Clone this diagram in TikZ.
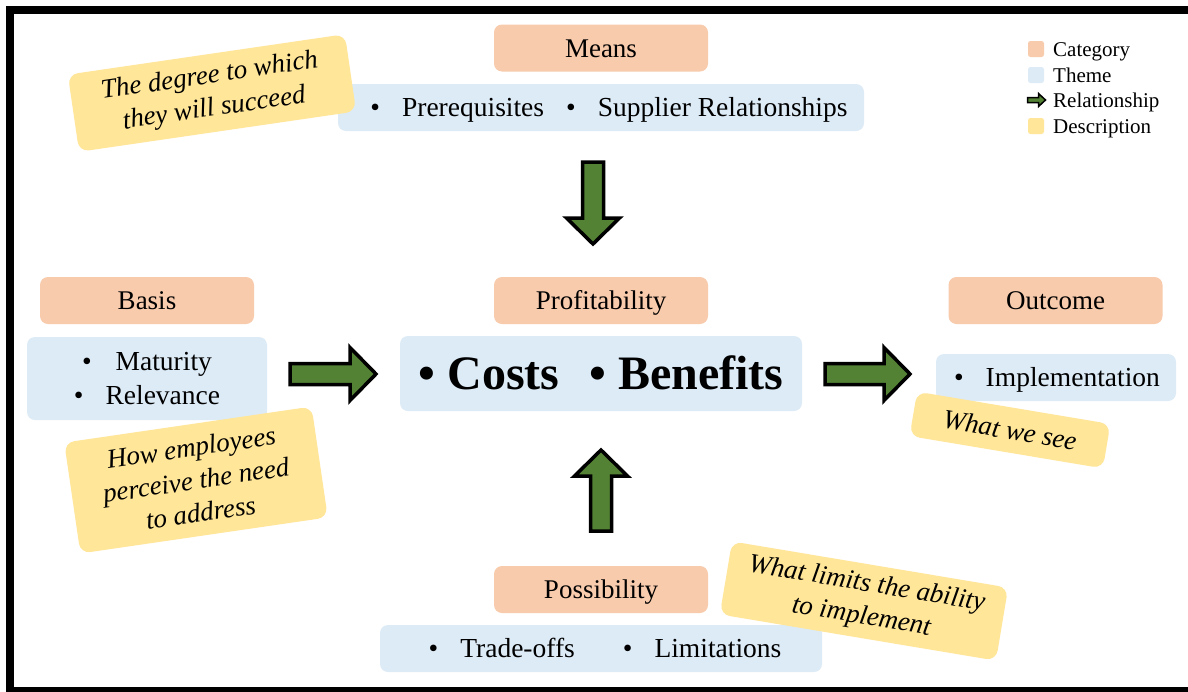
\documentclass[tikz,border=0pt]{standalone}
\usepackage{fontspec}
\setmainfont{Liberation Serif}
\usetikzlibrary{calc}

\definecolor{catfill}{HTML}{F8CBAD}
\definecolor{themefill}{HTML}{DDEBF7}
\definecolor{descfill}{HTML}{FFE699}
\definecolor{relgreen}{HTML}{548235}

\tikzset{
  oneline/.style={text height=19pt, text depth=1pt},
  catbox/.style={fill=catfill, rounded corners=8pt, minimum width=214pt, minimum height=47pt,
    inner sep=0pt, oneline, font=\fontsize{27}{30}\selectfont},
  themebox/.style={fill=themefill, rounded corners=8pt, inner sep=0pt,
    font=\fontsize{27.5}{34}\selectfont},
  descbox/.style={fill=descfill, rounded corners=10pt, inner sep=0pt, align=center,
    font=\fontsize{27}{33}\selectfont\itshape},
  relarrow/.style={fill=relgreen, draw=black, line join=miter},
  legsq/.style={rounded corners=2.5pt, minimum size=16pt, inner sep=0pt},
  legtext/.style={anchor=west, inner sep=0pt, text height=14.5pt, text depth=0.5pt,
    font=\fontsize{21}{24}\selectfont},
  frameline/.style={line width=8pt, draw=black},
}

% block arrow: #1 tail, #2 tip, #3 shaft half-width, #4 head half-width,
% #5 head length, #6 outline width
\newcommand\blockarrow[6]{%
  \coordinate (ba-neck) at ($(#2)!#5pt!(#1)$);
  \draw[relarrow, line width=#6pt]
    ($(#1)!#3pt!90:(#2)$) -- ($(ba-neck)!#3pt!-90:(#1)$) -- ($(ba-neck)!#4pt!-90:(#1)$)
    -- (#2) -- ($(ba-neck)!#4pt!90:(#1)$) -- ($(ba-neck)!#3pt!90:(#1)$)
    -- ($(#1)!#3pt!-90:(#2)$) -- cycle;
}

\begin{document}
\begin{tikzpicture}[x=1pt, y=-1pt]
\useasboundingbox (0,0) rectangle (1188,691);
\fill[white] (0,0) rectangle (1188,691);

% categories
\node[catbox] (means) at (601,48) {Means};
\node[catbox] (basis) at (147,300.5) {Basis};
\node[catbox] (profit) at (601,300.5) {Profitability};
\node[catbox] (outcome) at (1055.5,300.5) {Outcome};
\node[catbox] (poss) at (601,589.5) {Possibility};

% themes
\node[themebox, oneline, minimum width=526pt, minimum height=47pt] (means-th) at (601,107.5)
  {\hspace*{16pt}\textbullet\hspace{22pt}Prerequisites\hspace{22pt}\textbullet\hspace{22pt}Supplier Relationships};
\node[themebox, align=center, minimum width=240pt, minimum height=83pt] (basis-th) at (147,378.5)
  {\textbullet\hspace{24pt}Maturity\\\textbullet\hspace{22pt}Relevance};
\node[themebox, minimum width=402pt, minimum height=75pt, text height=33pt, text depth=1pt,
      font=\fontsize{48}{52}\selectfont\bfseries] (core) at (601,373.5)
  {\textbullet\ Costs\hspace{30pt}\textbullet\ Benefits};
\node[themebox, oneline, minimum width=240pt, minimum height=47pt] (outcome-th) at (1056,377.5)
  {\hspace*{2pt}\textbullet\hspace{22pt}Implementation};
\node[themebox, oneline, minimum width=442pt, minimum height=47pt] (poss-th) at (601,648.5)
  {\hspace*{8pt}\textbullet\hspace{22pt}Trade-offs\hspace{48pt}\textbullet\hspace{22pt}Limitations};

% descriptions
\node[descbox, minimum width=280pt, minimum height=78pt, rotate=8.3] (means-d) at (212,93)
  {The degree to which\\they will succeed};
\node[descbox, minimum width=250pt, minimum height=112pt, rotate=8.3] (basis-d) at (196,480)
  {How employees\\perceive the need\\to address};
\node[descbox, minimum width=196pt, minimum height=45pt, rotate=-9.5] (outcome-d) at (1010,430)
  {What we see};
\node[descbox, minimum width=280pt, minimum height=74pt, rotate=-9.5] (poss-d) at (864,601)
  {What limits the ability\\to implement};

% relationships
\coordinate (rel-top-s) at (593,162);
\coordinate (rel-top-e) at (593,244);
\coordinate (rel-left-s) at (290,374);
\coordinate (rel-left-e) at (376,374);
\coordinate (rel-right-s) at (825,374);
\coordinate (rel-right-e) at (910,374);
\coordinate (rel-bot-s) at (601,531);
\coordinate (rel-bot-e) at (601,450);
\blockarrow{rel-top-s}{rel-top-e}{10.5}{26.5}{26}{3.5}
\blockarrow{rel-left-s}{rel-left-e}{10.5}{26.5}{26}{3.5}
\blockarrow{rel-right-s}{rel-right-e}{10.5}{26.5}{26}{3.5}
\blockarrow{rel-bot-s}{rel-bot-e}{10.5}{26.5}{26}{3.5}

% legend
\node[legsq, fill=catfill] (lg-cat) at (1036,49) {};
\node[legtext] (lg-cat-t) at (1053,49) {Category};
\node[legsq, fill=themefill] (lg-th) at (1036,75) {};
\node[legtext] (lg-th-t) at (1053,75) {Theme};
\coordinate (lg-rel-s) at (1027.5,100);
\coordinate (lg-rel-e) at (1045.5,100);
\blockarrow{lg-rel-s}{lg-rel-e}{2.5}{6.5}{7}{1.5}
\node[legtext] (lg-rel-t) at (1053,100) {Relationship};
\node[legsq, fill=descfill] (lg-desc) at (1036,126) {};
\node[legtext] (lg-desc-t) at (1053,126) {Description};

% frame
\begin{scope}
  \clip (0,0) rectangle (1188,691);
  \draw[frameline] (1300,10) -- (10,10) -- (10,691) -- (1300,691);
\end{scope}
\end{tikzpicture}
\end{document}
